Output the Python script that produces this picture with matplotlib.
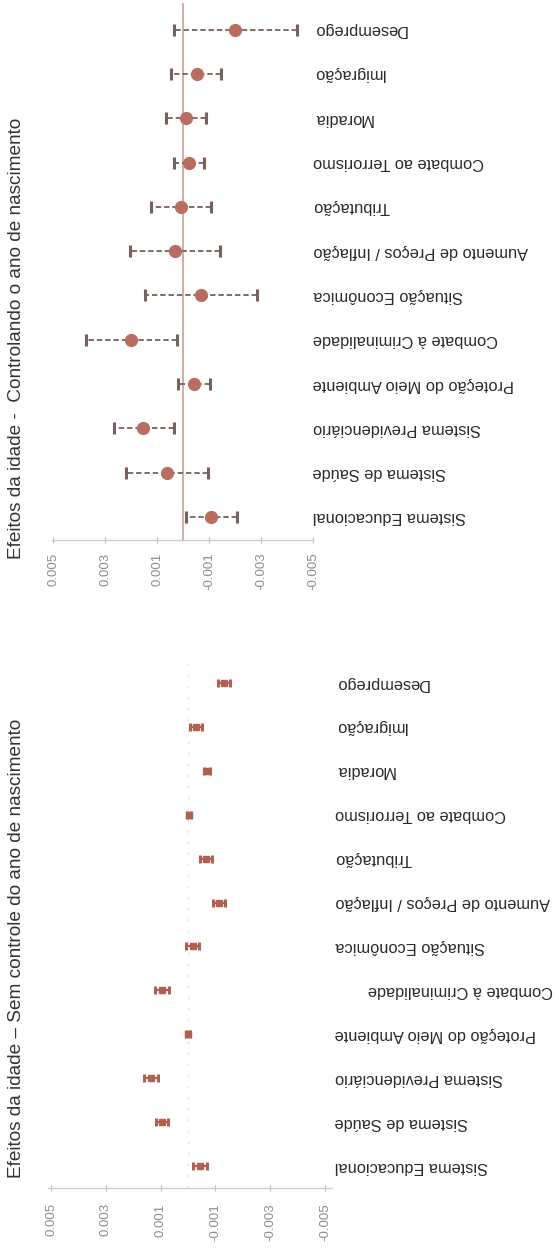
import matplotlib
matplotlib.use("Agg")
import matplotlib.pyplot as plt
from matplotlib.transforms import ScaledTranslation

plt.rcParams['font.family'] = ['Liberation Sans', 'DejaVu Sans']

# ---------------- data ----------------
categories = ["Sistema Educacional", "Sistema de Saúde", "Sistema Previdenciário",
              "Proteção do Meio Ambiente", "Combate à Criminalidade", "Situação Econômica",
              "Aumento de Preços / Inflação", "Tributação", "Combate ao Terrorismo",
              "Moradia", "Imigração", "Desemprego"]

# Top panel: controlling for birth year
top_title = "Efeitos da idade -  Controlando o ano de nascimento"
top_est = [-0.00108, 0.00062, 0.00154, -0.00042, 0.00200, -0.00069,
           0.00031, 0.00008, -0.00023, -0.00012, -0.00054, -0.00200]
top_lo = [-0.00208, -0.00096, 0.00035, -0.00104, 0.00023, -0.00285,
          -0.00142, -0.00108, -0.00081, -0.00088, -0.00146, -0.00438]
top_hi = [-0.00012, 0.00219, 0.00265, 0.00019, 0.00373, 0.00146,
          0.00204, 0.00123, 0.00035, 0.00065, 0.00046, 0.00035]

# Bottom panel: without birth-year control
bot_title = "Efeitos da idade – Sem controle do ano de nascimento"
bot_est = [-0.00044, 0.00095, 0.00135, 0.00000, 0.00095, -0.00018,
           -0.00113, -0.00066, -0.00004, -0.00069, -0.00029, -0.00131]
bot_lo = [-0.00068, 0.00072, 0.00111, -0.00008, 0.00070, -0.00042,
          -0.00135, -0.00088, -0.00012, -0.00079, -0.00052, -0.00154]
bot_hi = [-0.00020, 0.00118, 0.00159, 0.00008, 0.00120, 0.00006,
          -0.00091, -0.00044, 0.00004, -0.00059, -0.00006, -0.00108]

tick_values = [0.005, 0.003, 0.001, -0.001, -0.003, -0.005]
tick_labels = ["0.005", "0.003", "0.001", "-0.001", "-0.003", "-0.005"]

# ---------------- figure ----------------
W, H = 559, 1248
fig = plt.figure(figsize=(W / 100, H / 100), dpi=100)
fig.patch.set_facecolor("white")


def px_axes(x0, x1, ytop, ybot):
    return fig.add_axes([x0 / W, 1 - ybot / H, (x1 - x0) / W, (ybot - ytop) / H])


def style_axes(ax, xlim, ylim, pad):
    ax.set_xlim(*xlim)
    ax.set_ylim(*ylim)
    for s in ("top", "left", "right"):
        ax.spines[s].set_visible(False)
    ax.spines["bottom"].set_color("#cfcfcf")
    ax.spines["bottom"].set_linewidth(1.0)
    ax.set_yticks([])
    ax.set_xticks(tick_values)
    ax.set_xticklabels(tick_labels, rotation=90, fontsize=9.5, color="#8c8c8c")
    ax.tick_params(axis="x", direction="inout", length=4, color="#bdbdbd", pad=pad)
    ax.set_facecolor("none")


y = list(range(len(categories)))

# ---------- top panel ----------
ax1 = px_axes(52, 313, 3, 540)
style_axes(ax1, (0.00504, -0.0050), (-0.52, 11.6), 7)
ax1.axvline(0, color="#c9a198", lw=1.2, zorder=1)
xerr_lo = [e - l for e, l in zip(top_est, top_lo)]
xerr_hi = [h - e for e, h in zip(top_est, top_hi)]
_, caps, bars = ax1.errorbar(top_est, y, xerr=[xerr_lo, xerr_hi], fmt="o",
                             color="#b86d60", markersize=8.5, ecolor="#76615c",
                             elinewidth=1.3, capsize=4.5, capthick=2.2, zorder=3)
for b in bars:
    b.set_linestyle((0, (3, 1.6)))
for c in caps:
    c.set_color("#9b5f57")
for yi, lab in zip(y, categories):
    ax1.text(1.0, yi, lab, transform=ax1.get_yaxis_transform(), rotation=180,
             ha="left", va="center", fontsize=11.8, color="#2a2a2a")
fig.text(17 / W, 1 - 338 / H, top_title, rotation=90, ha="center", va="center",
         fontsize=13.7, color="#333333")

# ---------- bottom panel ----------
ax2 = px_axes(48, 332, 658, 1188)
style_axes(ax2, (0.00511, -0.00526), (-0.50, 11.57), 9)
ax2.axvline(0, color="#e4e4e4", lw=1.0, ls=(0, (2, 6)), zorder=1)
xerr_lo2 = [e - l for e, l in zip(bot_est, bot_lo)]
xerr_hi2 = [h - e for e, h in zip(bot_est, bot_hi)]
ax2.errorbar(bot_est, y, xerr=[xerr_lo2, xerr_hi2], fmt="s",
             color="#b0604e", markersize=4.5, ecolor="#b0604e",
             elinewidth=1.6, capsize=3.2, capthick=2.2, zorder=3)
label_shift_px = {"Combate à Criminalidade": 33}
for yi, lab in zip(y, categories):
    tr = ax2.get_yaxis_transform() + ScaledTranslation(
        (3 + label_shift_px.get(lab, 0)) / 100, 0, fig.dpi_scale_trans)
    ax2.text(1.0, yi, lab, transform=tr, rotation=180,
             ha="left", va="center", fontsize=11.8, color="#2a2a2a")
fig.text(17 / W, 1 - 948 / H, bot_title, rotation=90, ha="center", va="center",
         fontsize=13.7, color="#333333")

fig.savefig("out.png", dpi=100, facecolor="white")
